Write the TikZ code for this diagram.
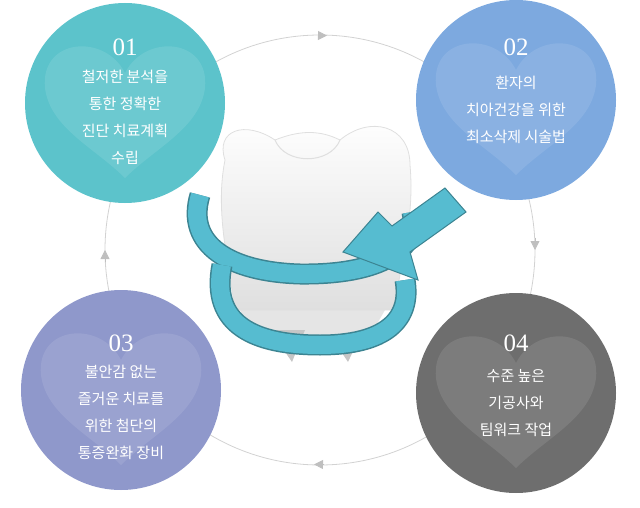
\documentclass[tikz,border=0pt]{standalone}
\usepackage{fontspec}
\newfontfamily\kr{Noto Sans CJK KR}
\newfontfamily\num{Liberation Serif}
\usetikzlibrary{arrows.meta}
\definecolor{cA}{HTML}{5CC3CB}
\definecolor{cB}{HTML}{7DA9DF}
\definecolor{cC}{HTML}{8F98CB}
\definecolor{cD}{HTML}{6E6E6E}
\definecolor{rib}{HTML}{56BCD0}
\tikzset{
  disc/.style={circle,minimum size=200pt,inner sep=0pt,text=white},
  lbl/.style={align=center,text=white,font=\kr\fontsize{15}{27}\selectfont},
  nm/.style={text=white,font=\num\fontsize{25}{25}\selectfont},
  tip/.style={-{Triangle[length=9pt,width=9pt]},draw=gray!50,line width=0.8pt},
  band/.style={rib,line width=18pt},
  bandedge/.style={rib!70!black,line width=21pt}
}
\begin{document}
\begin{tikzpicture}[x=1pt,y=-1pt]
\useasboundingbox (0,0) rectangle (640,508);
\draw[gray!35,line width=0.8pt] (320,250) circle (215);
\draw[tip] (318,35.5) -- (327,35.6);
\draw[tip] (535,238) -- (535,250);
\draw[tip] (324,464.5) -- (314,464.4);
\draw[tip] (105,262) -- (105,250);
% discs
\node[disc,fill=cA] (c1) at (125,103) {};
\node[disc,fill=cB] (c2) at (516,100) {};
\node[disc,fill=cC] (c3) at (121,390) {};
\node[disc,fill=cD] (c4) at (516,393) {};
\foreach \c in {c1,c2,c3,c4}{
  \begin{scope}[shift={(\c.center)}]
  \fill[white,opacity=0.10] (0,-30) .. controls (-20,-70) and (-85,-65) .. (-80,-15) .. controls (-75,25) and (-30,45) .. (0,75)
     .. controls (30,45) and (75,25) .. (80,-15) .. controls (85,-65) and (20,-70) .. (0,-30) -- cycle;
  \end{scope}
}
\node[nm] (n1) at (125,47) {01};
\node[lbl] (l1) at (125,117) {철저한 분석을\\통한 정확한\\진단 치료계획\\수립};
\node[nm] (n2) at (516,47) {02};
\node[lbl] (l2) at (516,110) {환자의\\치아건강을 위한\\최소삭제 시술법};
\node[nm] (n3) at (121,343) {03};
\node[lbl] (l3) at (121,412) {불안감 없는\\즐거운 치료를\\위한 첨단의\\통증완화 장비};
\node[nm] (n4) at (516,343) {04};
\node[lbl] (l4) at (516,403) {수준 높은\\기공사와\\팀워크 작업};
% tooth base
\fill[gray!20] (240,310) -- (385,310) -- (365,345) -- (255,345) -- cycle;
\fill[gray!45] (270,330) -- (292,362) -- (305,330) -- cycle;
\fill[gray!45] (330,335) -- (348,362) -- (362,332) -- cycle;
% tooth
\shade[top color=white,bottom color=gray!25,draw=gray!25,line width=0.8pt] (225,160) .. controls (215,130) and (245,120) .. (275,140)
  .. controls (300,130) and (320,130) .. (340,140) .. controls (370,115) and (410,125) .. (410,165)
  .. controls (415,220) and (400,260) .. (395,310) -- (235,310) .. controls (228,260) and (215,210) .. (225,160) -- cycle;
\draw[gray!25,line width=1pt] (275,140) .. controls (285,165) and (330,165) .. (340,140);
% ribbon
\draw[bandedge] (200,195) .. controls (185,245) and (230,272) .. (300,274) .. controls (380,275) and (420,250) .. (412,212);
\draw[band] (200,195) .. controls (185,245) and (230,272) .. (300,274) .. controls (380,275) and (420,250) .. (412,212);
\draw[bandedge] (222,265) .. controls (210,325) and (255,345) .. (320,345) .. controls (385,345) and (412,320) .. (405,280);
\draw[band] (222,265) .. controls (210,325) and (255,345) .. (320,345) .. controls (385,345) and (412,320) .. (405,280);
\fill[rib,draw=rib!70!black,line width=1pt] (343,252) -- (378,212) -- (392,226) -- (445,188) -- (466,212) -- (410,252) -- (418,280) -- cycle;
\end{tikzpicture}
\end{document}
